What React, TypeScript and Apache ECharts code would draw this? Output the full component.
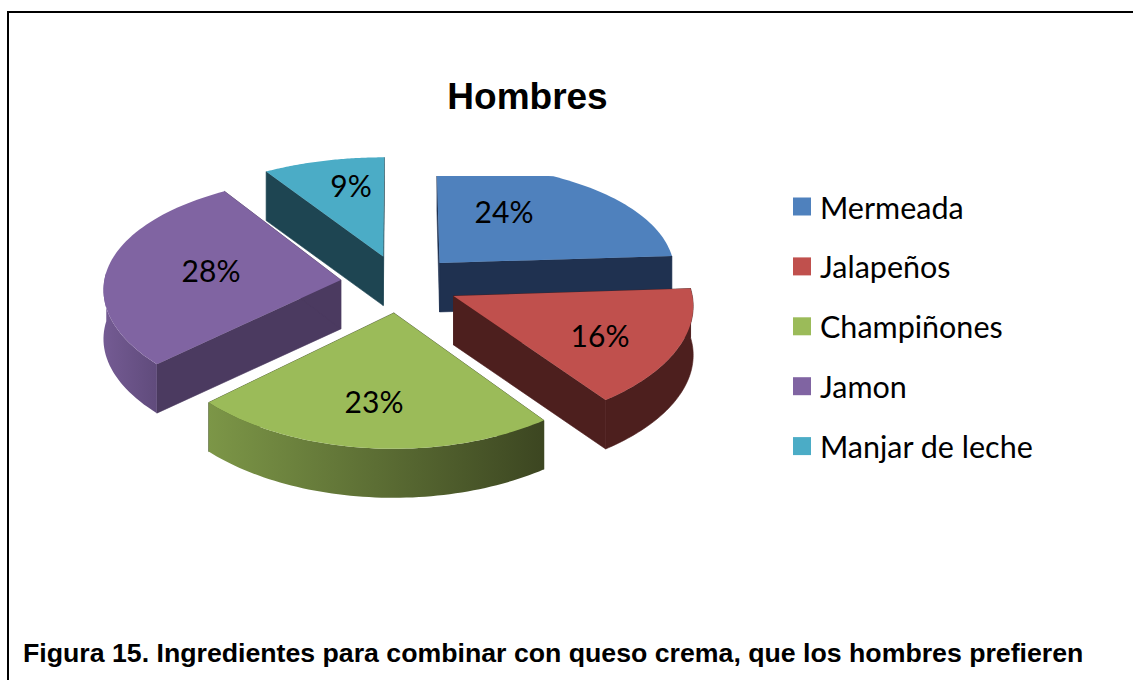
import React, { useEffect, useRef } from "react";
import * as echarts from "echarts";

const categories = ["Mermeada", "Jalapeños", "Champiñones", "Jamon", "Manjar de leche"];
const shares = [24, 16, 23, 28, 9];
const titleText = "Hombres";
const captionText = "Figura 15. Ingredientes para combinar con queso crema, que los hombres prefieren";

const topColors = ["#4F81BD", "#C0504D", "#9BBB59", "#8064A2", "#4BACC6"];
const cutColors = ["#1F3150", "#4D1F1E", "#3E4A24", "#4B3A60", "#1E4552"];
const wallFrom = ["#1F3150", "#4D1F1E", "#7C9647", "#745B93", "#1E4552"];
const wallTo = ["#1F3150", "#4D1F1E", "#3C4621", "#604B7C", "#1E4552"];
const drawRank = [2, 4, 5, 3, 1];
const labelSpots = [[504, 211], [600, 335], [374, 401], [211, 270], [351, 185]];
const clipTopY = [176, 0, 0, 0, 0];

const CX = 399.5, CY = 283.5, RX = 237, RY = 115, PX = 0.07, PY = 0.105, EXPLODE = 0.25, DEPTH = 49;
const DEG = Math.PI / 180;

const project = (X: number, Z: number, drop: number) => [
  CX + (RX * X) / (1 + PX * Z),
  CY - (RY * Z) / (1 + PY * Z) + drop,
];

const startOf = (i: number) => shares.slice(0, i).reduce((a, b) => a + b, 0) * 3.6;

function renderSlice(i: number) {
  const a0 = startOf(i);
  const a1 = a0 + shares[i] * 3.6;
  const mid = ((a0 + a1) / 2) * DEG;
  const ox = EXPLODE * Math.sin(mid);
  const oz = EXPLODE * Math.cos(mid);
  const at = (deg: number, drop: number) =>
    project(ox + Math.sin(deg * DEG), oz + Math.cos(deg * DEG), drop);
  const apex = (drop: number) => project(ox, oz, drop);
  const arc: number[] = [];
  for (let k = 0; k <= 60; k++) arc.push(a0 + ((a1 - a0) * k) / 60);
  const quad = (pts: number[][], fill: any, stroke?: string) => ({
    type: "polygon",
    shape: { points: pts.map((p) => [p[0], Math.max(p[1], clipTopY[i])]) },
    style: { fill, stroke: stroke || "none", lineWidth: stroke ? 0.6 : 0 },
  });
  const children: any[] = [];
  children.push(quad([apex(0), at(a0, 0), at(a0, DEPTH), apex(DEPTH)], cutColors[i], cutColors[i]));
  children.push(quad([apex(0), at(a1, 0), at(a1, DEPTH), apex(DEPTH)], cutColors[i], cutColors[i]));
  const front = arc.filter((d) => d >= 85 && d <= 275);
  if (front.length > 1) {
    const pts = [...front.map((d) => at(d, 0)), ...front.slice().reverse().map((d) => at(d, DEPTH))];
    if (wallFrom[i] === wallTo[i]) {
      children.push(quad(pts, wallFrom[i], wallFrom[i]));
    } else {
      children.push(
        quad(
          pts,
          new echarts.graphic.LinearGradient(0, 0, 1, 0, [
            { offset: 0, color: wallFrom[i] },
            { offset: 1, color: wallTo[i] },
          ])
        )
      );
    }
  }
  children.push(quad([apex(0), ...arc.map((d) => at(d, 0))], topColors[i]));
  children.push({
    type: "text",
    x: labelSpots[i][0],
    y: labelSpots[i][1],
    style: {
      text: shares[i] + "%",
      fill: "#000",
      font: "30px Lato",
      align: "center",
      verticalAlign: "middle",
    },
  });
  return { type: "group", children };
}

export default function App() {
  const ref = useRef<HTMLDivElement>(null);
  useEffect(() => {
    const chart = echarts.init(ref.current!, undefined, { renderer: "svg" });
    chart.setOption({
      animation: false,
      backgroundColor: "#fff",
      title: [
        {
          text: titleText,
          left: 527.5,
          top: 78,
          padding: 0,
          textAlign: "center",
          textStyle: { fontFamily: "Liberation Sans", fontWeight: "bold", fontSize: 37, color: "#000" },
        },
      ],
      legend: {
        data: categories,
        orient: "vertical",
        left: 793,
        top: 191,
        padding: 0,
        icon: "rect",
        itemWidth: 18,
        itemHeight: 18,
        itemGap: 28.9,
        selectedMode: false,
        textStyle: { fontFamily: "Lato", fontSize: 30.5, lineHeight: 30, color: "#000", padding: [0, 0, 0, 4] },
      },
      graphic: [
        {
          type: "polyline",
          shape: { points: [[8, 680], [8, 12], [1133, 12]] },
          style: { stroke: "#000", lineWidth: 2, fill: "none" },
        },
        {
          type: "text",
          x: 23,
          y: 653,
          style: {
            text: captionText,
            fill: "#000",
            font: 'bold 26.7px "Liberation Sans"',
            verticalAlign: "middle",
          },
        },
      ],
      series: categories.map((name, i) => ({
        type: "custom",
        name,
        coordinateSystem: "none",
        z: drawRank[i] + 2,
        itemStyle: { color: topColors[i] },
        data: [shares[i]],
        renderItem: () => renderSlice(i),
      })),
    });
    return () => chart.dispose();
  }, []);
  return <div ref={ref} style={{ position: "fixed", left: 0, top: 0, width: 1134, height: 680 }} />;
}
